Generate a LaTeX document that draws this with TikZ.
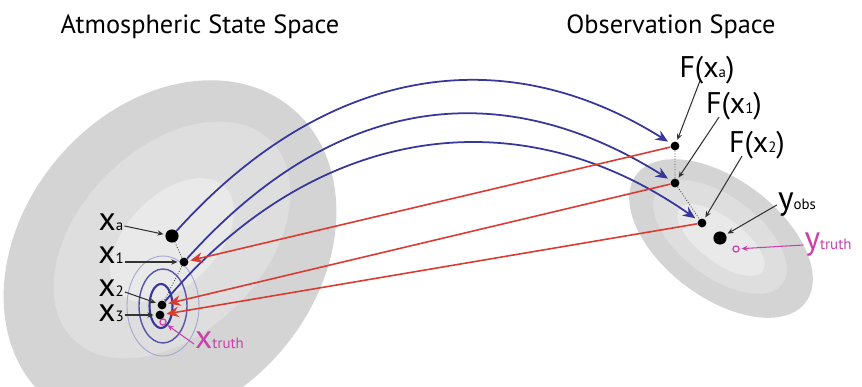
\documentclass[tikz,border=0pt]{standalone}
\usepackage{fontspec}
\setmainfont{PT Sans}
\usetikzlibrary{arrows.meta,positioning}

\definecolor{fwdblue}{RGB}{55,55,155}
\definecolor{backred}{RGB}{218,58,50}
\definecolor{truthmag}{RGB}{200,65,170}
\definecolor{grayA}{RGB}{212,212,212}
\definecolor{grayB}{RGB}{222,222,222}
\definecolor{grayC}{RGB}{233,233,233}

\newcommand{\sbs}[1]{{\fontsize{8.5pt}{9pt}\selectfont #1}}

\begin{document}
\begin{tikzpicture}[
  font=\fontsize{19pt}{20pt}\selectfont,
  dot/.style={circle, fill=black, inner sep=0pt, minimum size=5pt},
  bigdot/.style={dot, minimum size=7.5pt},
  truthpt/.style={circle, draw=truthmag, line width=0.7pt, inner sep=0pt, minimum size=3.5pt},
  lab/.style={inner sep=0.5pt, text height=1ex, text depth=0pt},
  flab/.style={inner sep=1pt, font=\fontsize{17pt}{18pt}\selectfont},
  title/.style={font=\fontsize{15pt}{16pt}\selectfont},
  fwd/.style={-{Stealth[length=7pt, width=6pt]}, draw=fwdblue, line width=1pt, shorten >=2pt},
  back/.style={-{Stealth[length=7pt, width=6pt]}, draw=backred, line width=0.9pt, shorten >=1pt},
  pointer/.style={-{Stealth[length=3.5pt, width=3pt]}, draw=black!80, line width=0.6pt, shorten >=1pt},
  tpointer/.style={pointer, draw=truthmag},
  trail/.style={densely dotted, draw=black!70, line width=0.5pt}
]
\useasboundingbox (0,0) rectangle (17.24,7.74);

% probability clouds
\begin{scope}
  \clip (0,0) rectangle (17.24,7.74);
  \fill[grayA] (3.40,2.66) ellipse [x radius=3.8, y radius=2.95, rotate=50];
  \fill[grayB] (3.44,2.94) ellipse [x radius=2.8, y radius=1.84, rotate=45];
  \fill[grayC] (3.44,2.94) ellipse [x radius=1.5, y radius=0.9, rotate=45];
  \fill[grayA] (14.42,2.97) ellipse [x radius=2.12, y radius=1.18, rotate=-37];
  \fill[grayB] (14.4,3.0) ellipse [x radius=1.56, y radius=0.8, rotate=-37];
  \fill[grayC] (14.42,2.94) ellipse [x radius=1.04, y radius=0.44, rotate=-37];
\end{scope}

% cost contours
\draw[fwdblue!45, line width=0.5pt] (3.26,1.62) ellipse [x radius=0.72, y radius=1.0];
\draw[fwdblue!85, line width=0.8pt] (3.26,1.62) ellipse [x radius=0.48, y radius=0.74];
\draw[fwdblue, line width=1.2pt] (3.22,1.62) ellipse [x radius=0.23, y radius=0.44];

% titles
\node[title] (tstate) at (4.0,7.2) {Atmospheric State Space};
\node[title] (tobs) at (13.42,7.2) {Observation Space};

% state space points
\node[bigdot] (xa) at (3.44,3.02) {};
\node[dot] (x1) at (3.68,2.50) {};
\node[dot] (x2) at (3.24,1.64) {};
\node[dot] (x3) at (3.20,1.44) {};
\node[truthpt] (xt) at (3.26,1.30) {};

% observation space points
\node[dot] (Fxa) at (13.50,4.82) {};
\node[dot] (Fx1) at (13.50,4.08) {};
\node[dot] (Fx2) at (14.04,3.28) {};
\node[bigdot] (yo) at (14.40,2.98) {};
\node[truthpt] (yt) at (14.72,2.76) {};

\draw[trail] (xa) -- (x1) -- (x2);
\draw[trail] (Fxa) -- (Fx1) -- (Fx2);

% labels
\node[lab] (lxa) at (2.22,3.22) {x\sbs{a}};
\node[lab] (lx1) at (2.22,2.56) {x\sbs{1}};
\node[lab] (lx2) at (2.22,1.90) {x\sbs{2}};
\node[lab] (lx3) at (2.22,1.40) {x\sbs{3}};
\node[lab, text=truthmag, anchor=west] (lxt) at (3.88,0.86) {x\sbs{truth}};
\node[flab] (lFa) at (14.14,6.34) {F(x\sbs{a})};
\node[flab] (lF1) at (14.68,5.62) {F(x\sbs{1})};
\node[flab] (lF2) at (15.14,4.84) {F(x\sbs{2})};
\node[lab] (lyo) at (15.94,3.64) {y\sbs{obs}};
\node[lab, text=truthmag] (lyt) at (16.56,2.84) {y\sbs{truth}};

\draw[pointer] (lxa.east) -- (xa);
\draw[pointer] (lx1.east |- x1) -- (x1);
\draw[pointer] (lx2.east) -- (x2);
\draw[pointer] (lx3.east |- x3) -- (x3);
\draw[tpointer] (lxt.west) -- (xt);
\draw[pointer] (lFa.south west) ++(0.45,0.1) -- (Fxa);
\draw[pointer] (lF1.south west) ++(0.3,0.1) -- (Fx1);
\draw[pointer] (lF2.south west) ++(0.3,0.1) -- (Fx2);
\draw[pointer] (lyo.west) -- (yo);
\draw[tpointer] (lyt.west) -- (yt);

% forward operator
\draw[fwd] (xa) to[out=48, in=148, looseness=1.07] (Fxa);
\draw[fwd] (x1) to[out=48, in=148, looseness=1.1] (Fx1);
\draw[fwd] (x2) to[out=50, in=145, looseness=1.07] (Fx2);

% increments back to state space
\draw[back] (Fxa) -- (x1);
\draw[back] (Fx1) -- (x2);
\draw[back] (Fx2) -- (x3);

\end{tikzpicture}
\end{document}
